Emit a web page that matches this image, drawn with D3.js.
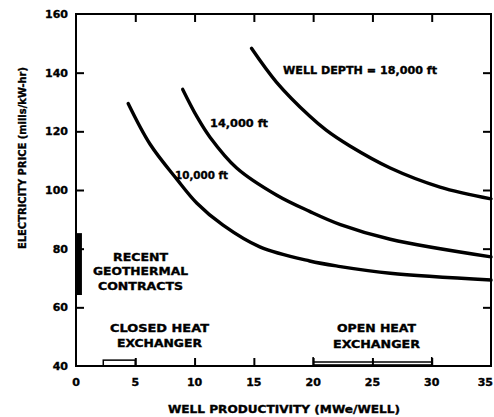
<!DOCTYPE html>
<html>
<head>
<meta charset="utf-8">
<script src="https://cdn.jsdelivr.net/npm/d3@7"></script>
<style>
  html, body { margin: 0; padding: 0; background: #fff; }
  svg { display: block; }
  text { font-family: "DejaVu Sans", sans-serif; font-weight: bold; fill: #000; stroke: #000; stroke-width: 0.35px; }
</style>
</head>
<body>
<svg id="chart" width="494" height="417"></svg>
<script>
// ---- data ----
const xTicks = [0, 5, 10, 15, 20, 25, 30, 35];
const yTicks = [40, 60, 80, 100, 120, 140, 160];

const depth18000X = [14.8, 16.9, 19.7, 21.1, 23.1, 26.5, 30.7, 35];
const depth18000Y = [148.3, 136.8, 125.2, 120.4, 115.0, 107.5, 101.0, 97.0];

const depth14000X = [9.0, 10.2, 11.3, 13.55, 16.9, 19.7, 22.3, 26.5, 35];
const depth14000Y = [134.3, 125.0, 118.0, 107.5, 98.3, 92.7, 88.2, 83.2, 77.2];

const depth10000X = [4.4, 6.25, 8.5, 10.2, 12.4, 15.5, 19.7, 22.3, 26.5, 35];
const depth10000Y = [129.5, 115.6, 103.7, 95.5, 88.0, 80.6, 75.8, 73.9, 71.6, 69.3];

const contractsX = [0, 0.5];
const contractsY = [64.2, 85.3];
const closedRange = [2.3, 5];
const closedTop = 42;
const openRange = [20, 30];

// ---- layout ----
const svg = d3.select("#chart");
const pL = 76, pR = 491, pT = 14, pB = 366;
const x = d3.scaleLinear().domain([0, 35]).range([pL, pR]);
const y = d3.scaleLinear().domain([40, 160]).range([pB, pT]);

// frame
svg.append("rect")
  .attr("x", pL).attr("y", pT)
  .attr("width", pR - pL).attr("height", pB - pT)
  .attr("fill", "none").attr("stroke", "#000").attr("stroke-width", 2);

const innerX = xTicks.filter(d => d > 0 && d < 35);
const innerY = yTicks.filter(d => d > 40 && d < 160);

function tickAxis(axis, transform) {
  const g = svg.append("g").attr("transform", transform).call(axis);
  g.select(".domain").remove();
  g.selectAll("line").attr("stroke", "#000").attr("stroke-width", 2);
  g.selectAll("text").remove();
}
tickAxis(d3.axisBottom(x).tickValues(innerX).tickSize(-8), `translate(0,${pB})`);
tickAxis(d3.axisTop(x).tickValues(innerX).tickSize(-8), `translate(0,${pT})`);
tickAxis(d3.axisLeft(y).tickValues(innerY).tickSize(-8), `translate(${pL},0)`);
tickAxis(d3.axisRight(y).tickValues(innerY).tickSize(-8), `translate(${pR},0)`);

// tick labels
svg.append("g").selectAll("text").data(yTicks).join("text")
  .attr("x", 68).attr("y", d => y(d) + 4)
  .attr("text-anchor", "end").attr("font-size", 11)
  .text(d => d);
svg.append("g").selectAll("text").data(xTicks).join("text")
  .attr("x", d => d === 35 ? 493 : x(d)).attr("y", 386)
  .attr("text-anchor", d => d === 35 ? "end" : "middle").attr("font-size", 11)
  .text(d => d);

function label(txt, cx, cy, width, size) {
  return svg.append("text")
    .attr("x", cx).attr("y", cy)
    .attr("text-anchor", "middle")
    .attr("font-size", size)
    .attr("textLength", width)
    .attr("lengthAdjust", "spacingAndGlyphs")
    .text(txt);
}
// axis titles
label("WELL PRODUCTIVITY (MWe/WELL)", 284, 413, 232, 10.5);
label("ELECTRICITY PRICE (mills/kW-hr)", -158, 26, 182, 10)
  .attr("transform", "rotate(-90)");

// curves
const line = d3.line().x(d => x(d[0])).y(d => y(d[1])).curve(d3.curveCatmullRom.alpha(0.5));
[[depth18000X, depth18000Y], [depth14000X, depth14000Y], [depth10000X, depth10000Y]]
  .forEach(([xs, ys]) => {
    svg.append("path")
      .datum(xs.map((v, i) => [v, ys[i]]))
      .attr("d", line)
      .attr("fill", "none").attr("stroke", "#000")
      .attr("stroke-width", 3.4).attr("stroke-linecap", "round");
  });

// curve labels
label("WELL DEPTH = 18,000 ft", 360, 74, 154, 10.5);
label("14,000 ft", 239, 127, 58, 10.5);
label("10,000 ft", 201.5, 179, 53, 10.5);

// recent contracts bar
svg.append("rect")
  .attr("x", x(contractsX[0])).attr("y", y(contractsY[1]))
  .attr("width", x(contractsX[1]) - x(contractsX[0]))
  .attr("height", y(contractsY[0]) - y(contractsY[1]))
  .attr("fill", "#000");

label("RECENT", 140.5, 261, 55, 10.5);
label("GEOTHERMAL", 140.5, 275, 95, 10.5);
label("CONTRACTS", 140.5, 290, 85, 10.5);

// closed heat exchanger range
svg.append("rect")
  .attr("x", x(closedRange[0])).attr("y", y(closedTop))
  .attr("width", x(closedRange[1]) - x(closedRange[0]))
  .attr("height", y(40) - y(closedTop))
  .attr("fill", "none").attr("stroke", "#000").attr("stroke-width", 1.5);
label("CLOSED HEAT", 159.5, 332, 99, 10.5);
label("EXCHANGER", 159.5, 347, 85, 10.5);

// open heat exchanger range
const og = svg.append("g").attr("stroke", "#000").attr("stroke-width", 1.5);
og.append("line").attr("x1", x(openRange[0])).attr("x2", x(openRange[1]))
  .attr("y1", 362).attr("y2", 362);
og.append("line").attr("x1", x(openRange[0])).attr("x2", x(openRange[1]))
  .attr("y1", 364.5).attr("y2", 364.5).attr("stroke-width", 0.8);
openRange.forEach(v => {
  og.append("line").attr("x1", x(v)).attr("x2", x(v)).attr("y1", 357).attr("y2", pB);
});
label("OPEN HEAT", 376.5, 332, 79, 10.5);
label("EXCHANGER", 376.5, 348, 87, 10.5);
</script>
</body>
</html>
